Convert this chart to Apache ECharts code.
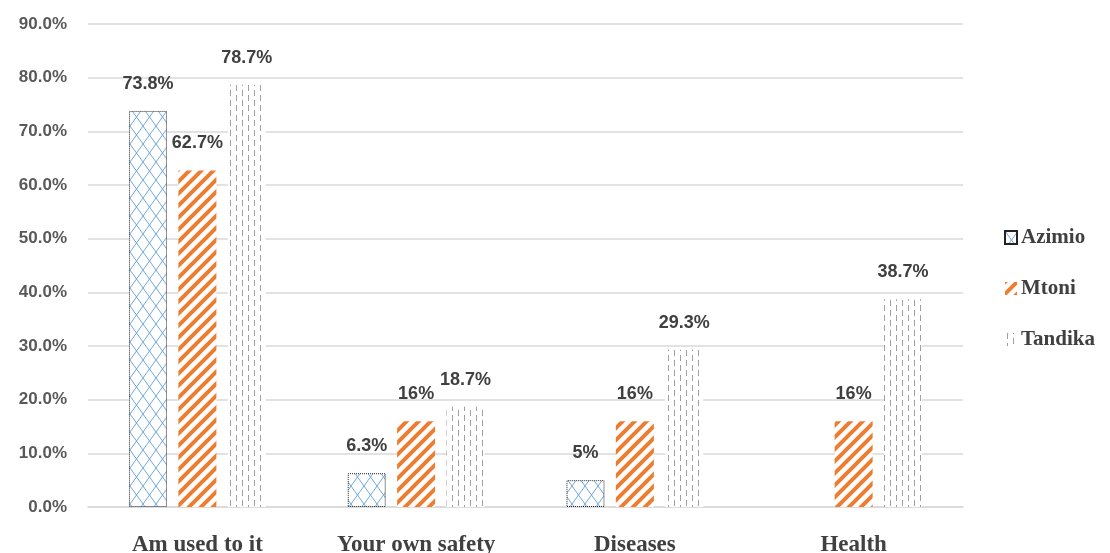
<!DOCTYPE html>
<html><head><meta charset="utf-8">
<script src="https://cdn.jsdelivr.net/npm/echarts@6/dist/echarts.min.js"></script>
<style>html,body{margin:0;padding:0;background:#fff}#c{width:1110px;height:553px}</style>
</head><body><div id="c"></div>
<script>
const categories = ['Am used to it', 'Your own safety', 'Diseases', 'Health'];
const seriesNames = ['Azimio', 'Mtoni', 'Tandika'];
const azimio = [73.8, 6.3, 5, null];
const mtoni = [62.7, 16, 16, 16];
const tandika = [78.7, 18.7, 29.3, 38.7];
const labelText = {
  Azimio: ['73.8%', '6.3%', '5%', ''],
  Mtoni: ['62.7%', '16%', '16%', '16%'],
  Tandika: ['78.7%', '18.7%', '29.3%', '38.7%']
};
const yTicks = [0, 10, 20, 30, 40, 50, 60, 70, 80, 90];

function mk(w, h, draw) {
  const c = document.createElement('canvas'); c.width = w; c.height = h;
  const g = c.getContext('2d'); g.fillStyle = '#fff'; g.fillRect(0, 0, w, h); draw(g, w, h); return c;
}
const crossCanvas = mk(13, 18, (g, w, h) => {
  g.strokeStyle = '#6fa6db'; g.lineWidth = 1;
  g.beginPath(); g.moveTo(0, 0); g.lineTo(w, h); g.moveTo(w, 0); g.lineTo(0, h); g.stroke();
});
const stripeCanvas = mk(12, 12, (g, w, h) => {
  g.strokeStyle = '#ED7D31'; g.lineWidth = 4;
  g.beginPath();
  g.moveTo(-6, 6); g.lineTo(6, -6);
  g.moveTo(0, 12); g.lineTo(12, 0);
  g.moveTo(6, 18); g.lineTo(18, 6);
  g.stroke();
});
const dashCanvas = mk(12, 20, (g, w, h) => {
  g.fillStyle = '#a0a0a0';
  g.fillRect(2, 0, 1, 6); g.fillRect(2, 10, 1, 6);
  g.fillRect(8, 5, 1, 6); g.fillRect(8, 15, 1, 5); g.fillRect(8, 0, 1, 1);
});
const fills = {
  Azimio: { image: crossCanvas, repeat: 'repeat' },
  Mtoni: { image: stripeCanvas, repeat: 'repeat' },
  Tandika: { image: dashCanvas, repeat: 'repeat' }
};
const dataMap = { Azimio: azimio, Mtoni: mtoni, Tandika: tandika };

const chart = echarts.init(document.getElementById('c'), null, { renderer: 'canvas' });
chart.setOption({
  animation: false,
  backgroundColor: '#fff',
  grid: { left: 88, right: 147, top: 24, bottom: 46, containLabel: false, outerBoundsMode: 'none' },
  legend: {
    orient: 'vertical', left: 999, top: 222,
    icon: 'rect',
    itemWidth: 12, itemHeight: 13, itemGap: 30,
    data: seriesNames,
    textStyle: { fontFamily: 'Liberation Serif', fontWeight: 'bold', fontSize: 21, color: '#404040', padding: [0, 0, 0, -1] }
  },
  xAxis: {
    type: 'category', data: categories,
    axisTick: { show: false },
    axisLine: { lineStyle: { color: '#d9d9d9', width: 1.5 } },
    axisLabel: { margin: 27, fontFamily: 'Liberation Serif', fontWeight: 'bold', fontSize: 23, color: '#404040' }
  },
  yAxis: {
    type: 'value', min: 0, max: 90, interval: 10,
    axisLine: { show: false }, axisTick: { show: false },
    splitLine: { lineStyle: { color: '#d9d9d9', width: 1.5 } },
    axisLabel: { margin: 21, fontFamily: 'Liberation Sans', fontWeight: 'bold', fontSize: 17, color: '#595959',
      formatter: v => yTicks.includes(v) ? v.toFixed(1) + '%' : '' }
  },
  series: seriesNames.map(n => ({
    name: n, type: 'bar', data: dataMap[n],
    barWidth: 38, barGap: '30%',
    itemStyle: {
      color: fills[n],
      borderColor: n === 'Azimio' ? '#222' : 'rgba(0,0,0,0)',
      borderWidth: n === 'Azimio' ? 1 : 0,
      borderType: 'dotted'
    },
    label: {
      show: true, position: 'top', distance: 18,
      fontFamily: 'Liberation Sans', fontWeight: 'bold', fontSize: 18, color: '#404040',
      formatter: p => labelText[n][p.dataIndex]
    }
  }))
});
</script></body></html>
